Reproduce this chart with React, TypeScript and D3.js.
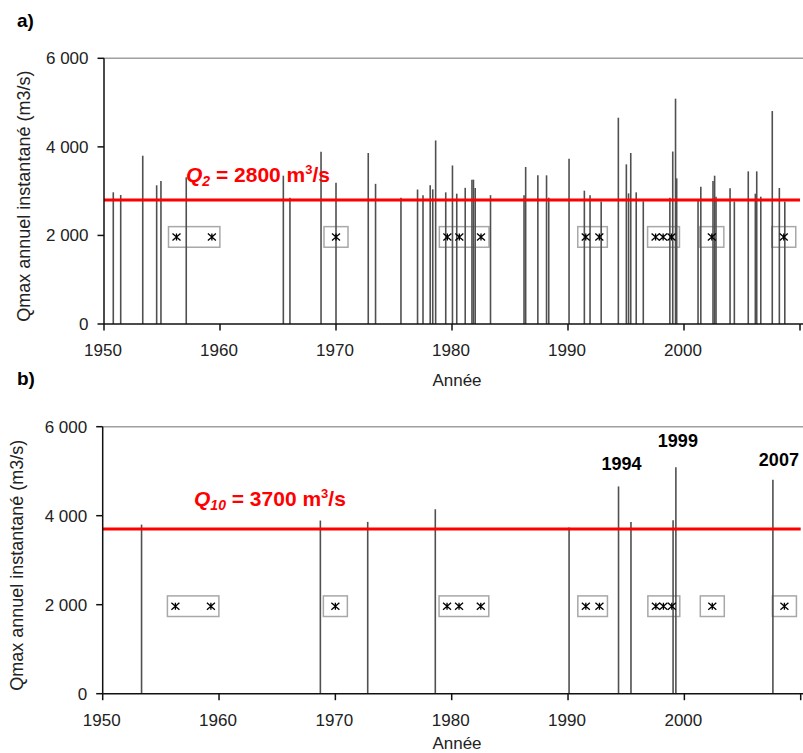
import React from "react";
import * as d3 from "d3";

// Annual instantaneous peak flow (date of peak as decimal year, m3/s)
const peakDates = [
  1950.8, 1951.44, 1953.34, 1954.54, 1954.91, 1957.09, 1965.46, 1966.03, 1968.71, 1970.0,
  1972.78, 1973.41, 1975.6, 1977.03, 1977.5, 1978.12, 1978.34, 1978.59, 1979.46, 1980.04,
  1980.41, 1981.14, 1981.72, 1981.85, 1982.0, 1983.32, 1986.21, 1986.35, 1987.4, 1988.15,
  1988.34, 1990.09, 1991.41, 1991.9, 1992.86, 1994.34, 1995.03, 1995.22, 1995.41, 1995.88,
  1996.49, 1998.78, 1999.03, 1999.27, 1999.37, 2001.21, 2001.45, 2002.5, 2002.64, 2002.76,
  2003.97, 2004.34, 2005.54, 2006.15, 2006.27, 2006.62, 2007.61, 2008.22, 2008.69,
];
const peakValues = [
  2974, 2913, 3800, 3132, 3229, 3312, 3349, 2852, 3891, 3191,
  3861, 3165, 2852, 3037, 2910, 3131, 3041, 4145, 2973, 3580,
  2943, 3075, 3259, 3259, 3071, 2909, 2909, 3545, 3357, 3357,
  2852, 3733, 3011, 2909, 2766, 4658, 3605, 2950, 3861, 2973,
  2770, 2850, 3895, 5088, 3289, 2777, 3101, 3229, 3349, 2875,
  3063, 2766, 3447, 2943, 3447, 2875, 4809, 3071, 2766,
];

// Asterisk marks (grouped in boxes) plotted at 2000 m3/s
const markGroups = [
  [1956.25, 1959.3],
  [1970.0],
  [1979.6, 1980.63, 1982.5],
  [1991.53, 1992.7],
  [1997.55, 1998.2, 1998.92],
  [2002.4],
  [2008.6],
];
const markLevel = 2000;

const yTicks = [0, 2000, 4000, 6000];
const xTicks = [1950, 1960, 1970, 1980, 1990, 2000, 2010];
const xTickLabels = ["1950", "1960", "1970", "1980", "1990", "2000", ""];

const Q2 = 2800;
const Q10 = 3700;
const labelledYears = ["1994", "1999", "2007"];

const FONT = "'Liberation Sans', Arial, sans-serif";
const fmt = (v: number) => (v === 0 ? "0" : d3.format(",")(v).replace(",", " "));

type PanelProps = {
  letter: string;
  letterY: number;
  left: number;
  right: number;
  top: number;
  bottom: number;
  yLabelX: number;
  xLabelY: number;
  q: number;
  qSub: string;
  qLabelX: number;
  qLabelY: number;
  filterMin: number;
  annotate: boolean;
};

function Panel(p: PanelProps) {
  const x = d3.scaleLinear().domain([1950, 2010]).range([p.left, p.right]);
  const y = d3.scaleLinear().domain([0, 6000]).range([p.bottom, p.top]);
  const idx = peakDates.map((_, i) => i).filter((i) => peakValues[i] >= p.filterMin);
  const nudges: Record<string, [number, number]> = { "1994": [3, -16], "1999": [2, -20], "2007": [6, -14] };

  return (
    <g fontFamily={FONT}>
      <text x={17} y={p.letterY} fontSize={19} fontWeight="bold" fill="#000">
        {p.letter}
      </text>
      {/* top frame line */}
      <line x1={p.left} x2={803} y1={p.top} y2={p.top} stroke="#a0a0a0" strokeWidth={1.4} />
      {/* boxes */}
      {markGroups.map((g, gi) => {
        const x0 = x(d3.min(g)!);
        const x1 = x(d3.max(g)!);
        const pad = g.length === 1 ? 12 : 8;
        const cy = y(markLevel) + 1.5;
        return (
          <rect
            key={"b" + gi}
            x={x0 - pad}
            y={cy - 10.3}
            width={x1 - x0 + 2 * pad}
            height={20.6}
            fill="none"
            stroke="#a8a8a8"
            strokeWidth={1.5}
          />
        );
      })}
      {/* bars */}
      {idx.map((i) => (
        <line
          key={"bar" + i}
          x1={x(peakDates[i])}
          x2={x(peakDates[i])}
          y1={y(0)}
          y2={y(peakValues[i])}
          stroke="#505050"
          strokeWidth={1.6}
        />
      ))}
      {/* asterisks */}
      {markGroups.flat().map((yr, k) => {
        const cx = x(yr);
        const cy = y(markLevel) + 1.5;
        return (
          <path
            key={"m" + k}
            d={`M${cx - 4},${cy - 3.5}L${cx + 4},${cy + 3.5}M${cx + 4},${cy - 3.5}L${cx - 4},${cy + 3.5}M${cx},${cy - 3.5}L${cx},${cy + 3.5}`}
            stroke="#000"
            strokeWidth={1.3}
            fill="none"
          />
        );
      })}
      {/* threshold */}
      <line x1={p.left} x2={p.right} y1={y(p.q)} y2={y(p.q)} stroke="#ff0000" strokeWidth={3} />
      <text x={p.qLabelX} y={p.qLabelY} fontSize={21} fontWeight="bold" fill="#ff0000">
        <tspan fontStyle="italic">Q</tspan>
        <tspan fontStyle="italic" fontSize={14} dy={4}>
          {p.qSub}
        </tspan>
        <tspan dy={-4}>{` = ${p.q} m`}</tspan>
        <tspan fontSize={13} dy={-8}>
          3
        </tspan>
        <tspan dy={8}>/s</tspan>
      </text>
      {/* year annotations */}
      {p.annotate &&
        labelledYears.map((lab) => {
          const cands = idx.filter((i) => Math.floor(peakDates[i]) === +lab);
          const i = cands.reduce((a, b) => (peakValues[b] > peakValues[a] ? b : a));
          const [dx, dy] = nudges[lab];
          return (
            <text
              key={"l" + lab}
              x={x(peakDates[i]) + dx}
              y={y(peakValues[i]) + dy}
              textAnchor="middle"
              fontSize={18}
              fontWeight="bold"
              fill="#000"
            >
              {lab}
            </text>
          );
        })}
      {/* axes */}
      <line x1={p.left} x2={p.left} y1={p.top} y2={p.bottom} stroke="#111" strokeWidth={1.5} />
      <line x1={p.left} x2={803} y1={p.bottom} y2={p.bottom} stroke="#111" strokeWidth={1.5} />
      {yTicks.map((t) => (
        <g key={"yt" + t}>
          <line x1={p.left - 6.5} x2={p.left} y1={y(t)} y2={y(t)} stroke="#111" strokeWidth={1.5} />
          <text x={p.left - 15.5} y={y(t) + 6} textAnchor="end" fontSize={17} fill="#222">
            {fmt(t)}
          </text>
        </g>
      ))}
      {xTicks.map((t, k) => (
        <g key={"xt" + t}>
          <line x1={x(t)} x2={x(t)} y1={p.bottom} y2={p.bottom + 6.5} stroke="#111" strokeWidth={1.5} />
          <text x={x(t) - 1} y={p.bottom + 32} textAnchor="middle" fontSize={17} fill="#222">
            {xTickLabels[k]}
          </text>
        </g>
      ))}
      <text x={457} y={p.xLabelY} textAnchor="middle" fontSize={17} fill="#222">
        Année
      </text>
      <text
        transform={`translate(${p.yLabelX},${(p.top + p.bottom) / 2 + 5}) rotate(-90)`}
        textAnchor="middle"
        fontSize={18}
        fill="#222"
      >
        Qmax annuel instantané (m3/s)
      </text>
    </g>
  );
}

export default function App() {
  return (
    <svg
      width={803}
      height={753}
      style={{ position: "absolute", left: 0, top: 0, background: "#fff" }}
    >
      <rect width={803} height={753} fill="#fff" />
      <Panel
        letter="a)"
        letterY={27}
        left={104}
        right={800}
        top={58.3}
        bottom={324}
        yLabelX={29.5}
        xLabelY={386}
        q={Q2}
        qSub="2"
        qLabelX={186}
        qLabelY={181.5}
        filterMin={0}
        annotate={false}
      />
      <Panel
        letter="b)"
        letterY={385}
        left={102.7}
        right={800.7}
        top={426.7}
        bottom={693.7}
        yLabelX={23}
        xLabelY={749}
        q={Q10}
        qSub="10"
        qLabelX={194}
        qLabelY={506}
        filterMin={Q10}
        annotate={true}
      />
    </svg>
  );
}
